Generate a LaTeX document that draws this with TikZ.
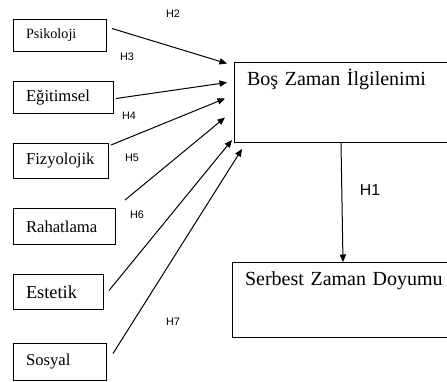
\documentclass[tikz,border=0pt]{standalone}
\usepackage{fontspec}
\setmainfont{Liberation Serif}
\setsansfont{Liberation Sans}
\usetikzlibrary{arrows.meta, positioning}

\begin{document}
\begin{tikzpicture}[
  x=0.6pt, y=-0.6pt,
  factor/.style={draw, line width=0.6pt, anchor=north west, align=left, inner xsep=7.5pt, inner ysep=0pt, font=\fontsize{10}{12}\selectfont},
  result/.style={draw, line width=0.6pt, anchor=north west, align=left, text width=140pt, inner xsep=7.5pt, inner ysep=0pt, text height=13.8pt, font=\fontsize{12}{14}\selectfont},
  hyp/.style={font=\sffamily\fontsize{6.5}{7}\selectfont, inner sep=0pt},
  arrow/.style={line width=0.6pt, -{Triangle[length=4.5pt,width=3.8pt]}}
]
\clip (0,0) rectangle (447,381);

% Nodes
\node[factor, text width=40.8pt, minimum height=19.2pt, font=\fontsize{8.5}{10}\selectfont] (psikoloji) at (13,19) {Psikoloji};
\node[factor, text width=45pt, minimum height=19.2pt] (egitimsel) at (13,81) {Eğitimsel};
\node[factor, text width=42pt, minimum height=21pt] (fizyolojik) at (13,143) {Fizyolojik};
\node[factor, text width=46.2pt, minimum height=21.6pt] (rahatlama) at (13,208) {Rahatlama};
\node[factor, text width=39pt, minimum height=21pt, font=\fontsize{11}{13}\selectfont] (estetik) at (13,274) {Estetik};
\node[factor, text width=40.8pt, minimum height=22.2pt] (sosyal) at (13,343) {Sosyal};

\node[result, text depth=34.2pt] (ilgilenim) at (234,62) {Boş Zaman İlgilenimi};
\node[result, text depth=31.2pt] (doyum) at (232,262) {Serbest Zaman Doyumu};

% Labels
\node[hyp] (h2) at (173,14) {H2};
\node[hyp] (h3) at (127,57) {H3};
\node[hyp] (h4) at (129,116) {H4};
\node[hyp] (h5) at (132,158) {H5};
\node[hyp] (h6) at (137,215) {H6};
\node[hyp] (h7) at (173,322) {H7};
\node[hyp, font=\sffamily\fontsize{9.5}{11}\selectfont] (h1) at (370,190) {H1};

% Pointers
\draw[arrow] ([shift={(5,-7)}]psikoloji.east) -- ([shift={(-7,-39)}]ilgilenim.west);
\draw[arrow] ([shift={(2,1)}]egitimsel.east) -- ([shift={(-7,-20)}]ilgilenim.west);
\draw[arrow] ([shift={(2,2)}]fizyolojik.north east) -- ([shift={(-9,-4)}]ilgilenim.west);
\draw[arrow] ([shift={(9,-8)}]rahatlama.north east) -- ([shift={(-9,15)}]ilgilenim.west);
\draw[arrow] ([shift={(5,-1.5)}]estetik.east) -- ([shift={(-2,-3)}]ilgilenim.south west);
\draw[arrow] ([shift={(6,-8.5)}]sosyal.east) -- ([shift={(8,6)}]ilgilenim.south west);
\draw[arrow] ([xshift=64.2pt]ilgilenim.south west) -- ([xshift=66.6pt]doyum.north west);
\end{tikzpicture}
\end{document}
